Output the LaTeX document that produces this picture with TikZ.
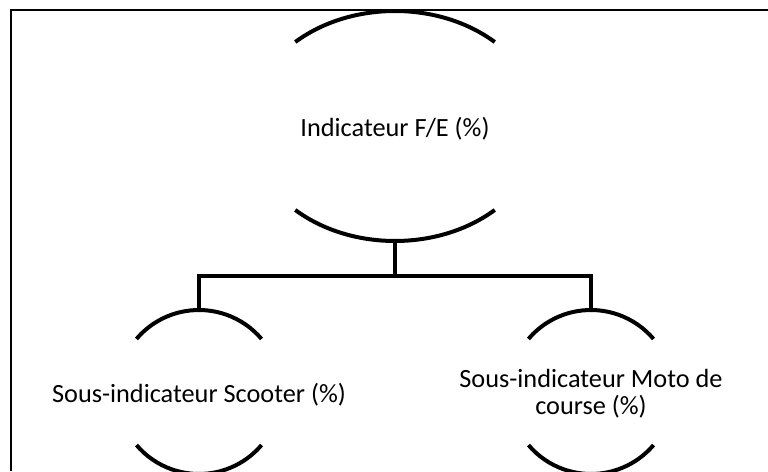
\documentclass[tikz,border=0pt]{standalone}
\usepackage{fontspec}
\setmainfont{Carlito}
\usetikzlibrary{shapes.geometric}
\begin{document}
\begin{tikzpicture}[x=1pt,y=1pt,
  lbl/.style={inner sep=0pt, align=center, font=\fontsize{26.3}{28}\selectfont},
  holder/.style={inner sep=0pt, outer sep=0pt},
  rim/.style={line width=4pt},
  link/.style={line width=4.5pt},
  frame/.style={line width=2pt}]
  \useasboundingbox (0,0) rectangle (768,471);
  % outer frame (only top and left edges fall inside the page)
  \draw[frame] (768,461) -- (10.5,461) -- (10.5,0);

  % invisible holders that carry the anchors of the three shapes
  \node[holder, ellipse, minimum width=292pt, minimum height=230pt] (F) at (395,345) {};
  \node[holder, circle, minimum size=164pt] (S) at (199,79) {};
  \node[holder, circle, minimum size=164pt] (M) at (591,79) {};

  % top and bottom arcs of each shape
  \draw[rim] (F.center) ++(46.9:146 and 115) arc[start angle=46.9, end angle=133.1, x radius=146, y radius=115];
  \draw[rim] (F.center) ++(226.9:146 and 115) arc[start angle=226.9, end angle=313.1, x radius=146, y radius=115];
  \foreach \n in {S,M}{
    \draw[rim] (\n.center) ++(40.3:82) arc[start angle=40.3, end angle=139.7, radius=82];
    \draw[rim] (\n.center) ++(220.3:82) arc[start angle=220.3, end angle=319.7, radius=82];
  }

  % labels (base anchor of a two-line label sits on its last line)
  \node[lbl, anchor=base] (Ft) at (395,334.3) {Indicateur F/E (\%)};
  \node[lbl, anchor=base] (St) at (199,68.3) {Sous-indicateur Scooter (\%)};
  \node[lbl, anchor=base] (Mt) at (591,56) {Sous-indicateur Moto de\\course (\%)};

  % tree connectors
  \coordinate (bus) at (395,195);
  \draw[link] (F.south) -- (bus);
  \draw[link] (S.north) |- (bus) -| (M.north);
\end{tikzpicture}
\end{document}
